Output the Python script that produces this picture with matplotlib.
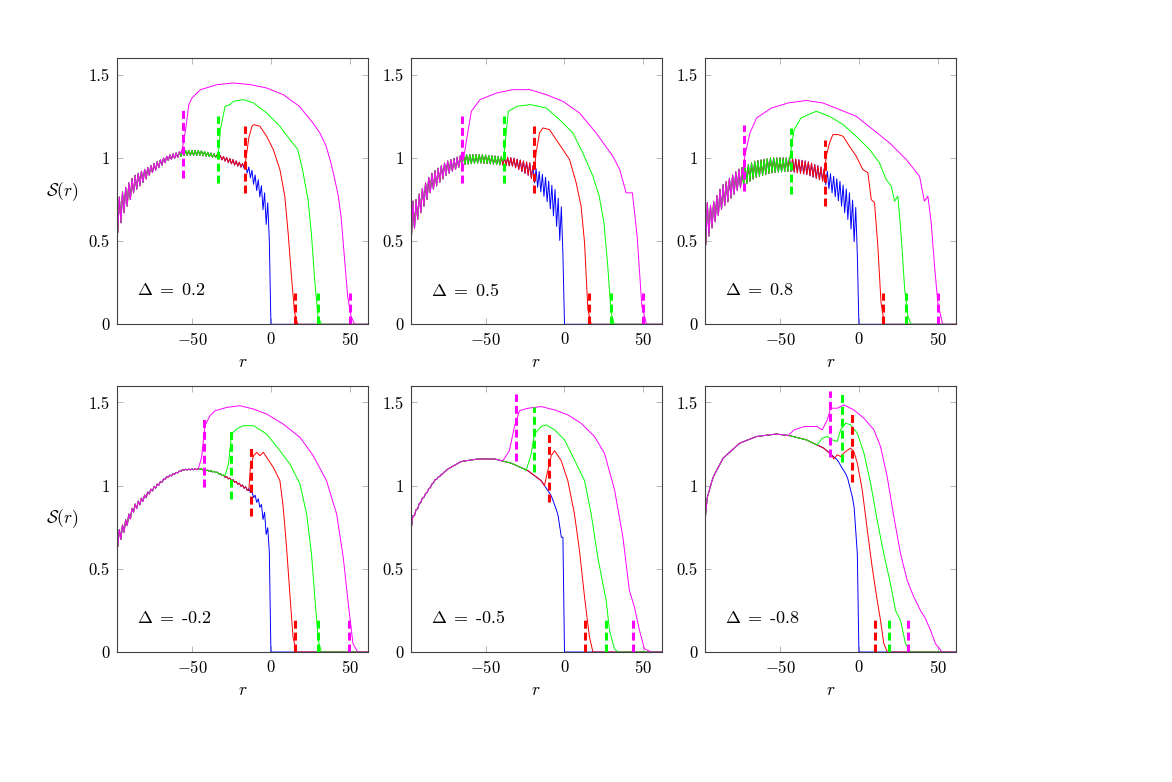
import numpy as np
import matplotlib
matplotlib.use("Agg")
import matplotlib.pyplot as plt

################################ Police façon LaTeX ################################
plt.rcParams['font.family'] = 'serif'
plt.rcParams['font.serif'] = ['cmr10']
plt.rcParams['mathtext.fontset'] = 'cm'
plt.rcParams['axes.formatter.use_mathtext'] = True

################################ Données ########################
DELTAS = ["0.2", "0.5", "0.8", "-0.2", "-0.5", "-0.8"]

# Delta = 0.2 : courbe de base (moyenne + demi-amplitude de l'oscillation pair/impair)
r_base_1 = [-98, -97, -93, -87, -76, -65, -55, -45, -34, -24, -17, -13, -7, -4, -1]
s_base_1 = [0.62, 0.65, 0.74, 0.84, 0.93, 1.0, 1.03, 1.03, 1.01, 0.975, 0.95, 0.91, 0.81, 0.72, 0.6]
a_base_1 = [0.1, 0.1, 0.07, 0.05, 0.025, 0.015, 0.015, 0.015, 0.01, 0.015, 0.012, 0.03, 0.045, 0.07, 0.1]
r_rouge_1 = [-17, -16, -14, -12, -10.7, -7, -2.7, 1.5, 5.7, 8.8, 10.9, 13, 15, 17]
s_rouge_1 = [0.95, 0.98, 1.12, 1.19, 1.20, 1.19, 1.13, 1.05, 0.93, 0.77, 0.55, 0.29, 0.07, 0]
r_vert_1 = [-34, -33, -32, -29, -26, -23.7, -17.4, -11, -2.7, 5.7, 12, 17, 20, 23.5, 25.6, 27.7, 29.8, 32]
s_vert_1 = [1.01, 1.05, 1.17, 1.31, 1.32, 1.34, 1.35, 1.33, 1.27, 1.19, 1.11, 1.05, 0.93, 0.75, 0.55, 0.27, 0.05, 0]
r_mag_1 = [-57, -56, -54, -52, -50, -44.6, -34, -23.7, -13, -2.7, 7.8, 18, 26.6, 31, 35, 38, 40, 42.5, 44.4, 46.5, 48.6, 50.7, 53]
s_mag_1 = [1.03, 1.06, 1.17, 1.32, 1.36, 1.41, 1.44, 1.45, 1.44, 1.42, 1.38, 1.31, 1.21, 1.15, 1.07, 0.97, 0.89, 0.78, 0.65, 0.41, 0.17, 0.05, 0]
saut_1 = [-16.5, -33.5, -55.7]
saut_bas_1 = [0.79, 0.85, 0.88]
saut_haut_1 = [1.19, 1.25, 1.29]
fin_1 = [15.2, 29.7, 50.0]

# Delta = 0.5
r_base_2 = [-98, -94, -85, -74.5, -64, -53.5, -43, -32.7, -22, -11.6, -6, -1]
s_base_2 = [0.6, 0.68, 0.845, 0.94, 0.99, 0.995, 0.985, 0.975, 0.93, 0.815, 0.72, 0.55]
a_base_2 = [0.13, 0.07, 0.055, 0.04, 0.03, 0.025, 0.025, 0.025, 0.04, 0.065, 0.09, 0.13]
r_rouge_2 = [-19, -18, -15.8, -13.7, -9.5, -5.3, -1, 3.2, 7.4, 10.5, 12.7, 14.8, 16.9]
s_rouge_2 = [0.93, 1.03, 1.15, 1.18, 1.17, 1.11, 1.05, 0.99, 0.85, 0.71, 0.49, 0.09, 0]
r_vert_2 = [-39, -38, -36.7, -35.6, -30, -21.6, -11.6, -3.2, 5.3, 11.6, 18, 22, 25, 27.4, 29.5, 31.6]
s_vert_2 = [0.98, 1.05, 1.17, 1.28, 1.31, 1.32, 1.30, 1.23, 1.15, 1.03, 0.89, 0.77, 0.61, 0.35, 0.07, 0]
r_mag_2 = [-64, -62, -59, -53.5, -43, -32.7, -22, -11.6, -1, 9.5, 20, 30.6, 35, 39, 43, 46, 49, 52]
s_mag_2 = [0.99, 1.11, 1.28, 1.35, 1.39, 1.41, 1.41, 1.38, 1.34, 1.27, 1.15, 1.01, 0.93, 0.79, 0.79, 0.53, 0.11, 0]
saut_2 = [-19.0, -38.6, -64.6]
saut_bas_2 = [0.79, 0.85, 0.85]
saut_haut_2 = [1.19, 1.25, 1.25]
fin_2 = [15.8, 29.7, 50.0]

# Delta = 0.8
r_base_3 = [-98, -93.5, -87, -76.5, -66, -55.5, -44, -33, -22.8, -12, -6, -1]
s_base_3 = [0.6, 0.64, 0.76, 0.87, 0.93, 0.955, 0.96, 0.94, 0.90, 0.795, 0.70, 0.55]
a_base_3 = [0.15, 0.07, 0.07, 0.06, 0.05, 0.045, 0.04, 0.04, 0.04, 0.065, 0.09, 0.13]
r_rouge_3 = [-21.8, -20.7, -18.6, -16.5, -13.3, -10, -6, -1.7, 2.5, 5.7, 7.8, 9.9, 12, 14, 16.2]
s_rouge_3 = [0.9, 1.01, 1.09, 1.14, 1.14, 1.13, 1.07, 1.01, 0.93, 0.91, 0.75, 0.73, 0.47, 0.13, 0]
r_vert_3 = [-44, -43, -41, -36.7, -27, -18.6, -10, -1.7, 6.8, 13, 17.3, 20.5, 22.6, 24.7, 26.8, 29, 31, 33]
s_vert_3 = [0.98, 1.05, 1.17, 1.24, 1.28, 1.25, 1.2, 1.13, 1.05, 0.97, 0.87, 0.83, 0.74, 0.77, 0.53, 0.21, 0.05, 0]
r_mag_3 = [-73.4, -72.3, -69, -64.8, -55.3, -44.7, -33.3, -22.8, -12.2, -1.7, 8.9, 19.4, 30, 38.4, 41.5, 43.7, 45.8, 47.9, 50, 53]
s_mag_3 = [0.9, 1.01, 1.15, 1.24, 1.30, 1.33, 1.345, 1.33, 1.29, 1.25, 1.17, 1.09, 0.99, 0.89, 0.74, 0.77, 0.61, 0.35, 0.13, 0]
saut_3 = [-21.7, -43.2, -73.0]
saut_bas_3 = [0.71, 0.78, 0.80]
saut_haut_3 = [1.11, 1.18, 1.20]
fin_3 = [15.0, 30.1, 49.8]

# Delta = -0.2
r_base_4 = [-98, -93.5, -87, -76.5, -66, -55.5, -45, -34.4, -23.8, -13.3, -7, -4, -1]
s_base_4 = [0.66, 0.74, 0.86, 0.965, 1.05, 1.095, 1.10, 1.08, 1.03, 0.97, 0.89, 0.8, 0.65]
a_base_4 = [0.05, 0.03, 0.02, 0.01, 0.005, 0.003, 0.003, 0.003, 0.005, 0.008, 0.02, 0.04, 0.05]
r_rouge_4 = [-14, -13, -11, -9, -7, -4.8, -2.7, 1.5, 5.7, 7.8, 9.9, 12, 14, 16.2]
s_rouge_4 = [0.97, 1.11, 1.18, 1.2, 1.18, 1.2, 1.17, 1.11, 1.03, 0.87, 0.63, 0.35, 0.09, 0]
r_vert_4 = [-29, -26.9, -24.9, -21.7, -17.5, -11, -2.7, 5.7, 12, 18.4, 22.6, 25.7, 27.8, 30, 32]
s_vert_4 = [1.06, 1.13, 1.31, 1.34, 1.36, 1.36, 1.31, 1.21, 1.13, 1.01, 0.83, 0.59, 0.33, 0.07, 0]
r_mag_4 = [-46, -43.9, -41.8, -38.6, -35.4, -28, -19.6, -11, -2.7, 7.8, 18.4, 26.8, 35.2, 41.6, 45.8, 49, 52, 55]
s_mag_4 = [1.1, 1.17, 1.36, 1.42, 1.45, 1.47, 1.48, 1.46, 1.43, 1.37, 1.29, 1.18, 1.03, 0.83, 0.57, 0.29, 0.05, 0]
saut_4 = [-12.7, -25.3, -42.4]
saut_bas_4 = [0.82, 0.92, 0.99]
saut_haut_4 = [1.23, 1.33, 1.40]
fin_4 = [15.2, 29.7, 49.4]

# Delta = -0.5
r_base_5 = [-98, -96, -90.7, -82.3, -73.8, -65.4, -54.9, -44.3, -33.8, -23.2, -14.8, -8.4, -4.2, -2, -1]
s_base_5 = [0.7, 0.81, 0.91, 1.03, 1.10, 1.145, 1.16, 1.16, 1.135, 1.09, 1.03, 0.94, 0.83, 0.69, 0.69]
a_base_5 = [0.01, 0.01, 0.005, 0.003, 0, 0, 0, 0, 0, 0, 0, 0, 0, 0, 0]
r_rouge_5 = [-12.7, -10.1, -8.4, -6.3, -2.1, 2.1, 6.3, 9.5, 12.7, 15.8, 18]
s_rouge_5 = [1.0, 1.11, 1.18, 1.21, 1.15, 1.03, 0.83, 0.61, 0.33, 0.09, 0]
r_vert_5 = [-24.3, -21.1, -19, -14.8, -11.6, -6.3, 0, 6.3, 12.7, 16.9, 21.1, 24.3, 26.4, 28.5, 31.6, 33.8]
s_vert_5 = [1.09, 1.19, 1.31, 1.355, 1.365, 1.335, 1.275, 1.155, 1.03, 0.83, 0.57, 0.41, 0.31, 0.13, 0.02, 0]
r_mag_5 = [-39, -34.9, -31.7, -28.5, -23.2, -14.8, -6.3, 2.1, 10.5, 19, 25.3, 31.7, 37, 41.1, 44.3, 47.5, 50.6, 55]
s_mag_5 = [1.15, 1.21, 1.355, 1.45, 1.465, 1.475, 1.455, 1.425, 1.375, 1.295, 1.195, 0.975, 0.69, 0.37, 0.27, 0.13, 0.02, 0]
saut_5 = [-9.5, -19.0, -31.0]
saut_bas_5 = [0.90, 1.08, 1.15]
saut_haut_5 = [1.31, 1.47, 1.55]
fin_5 = [13.3, 26.6, 43.7]

# Delta = -0.8
r_base_6 = [-98, -96.6, -92.4, -86, -75.5, -64.9, -52.3, -43.8, -33.3, -22.2, -13.7, -7.4, -3.2, -1]
s_base_6 = [0.66, 0.91, 1.05, 1.165, 1.255, 1.295, 1.31, 1.30, 1.275, 1.225, 1.155, 1.055, 0.895, 0.59]
a_base_6 = [0, 0, 0, 0, 0, 0, 0, 0, 0, 0, 0, 0, 0, 0]
r_rouge_6 = [-16, -13.7, -11.6, -8.4, -5.3, -3.2, -1, 2.1, 5.3, 8.4, 11.6, 13.7, 15.8, 18]
s_rouge_6 = [1.16, 1.185, 1.175, 1.205, 1.225, 1.205, 1.135, 0.975, 0.735, 0.51, 0.31, 0.19, 0.05, 0]
r_vert_6 = [-26.4, -23.2, -20, -16.9, -13.7, -11.6, -8.4, -5.3, -1, 3.2, 7.4, 11.6, 15.8, 20, 23.2, 26.4, 29.5, 32.7]
s_vert_6 = [1.245, 1.285, 1.295, 1.275, 1.265, 1.335, 1.375, 1.365, 1.315, 1.195, 1.015, 0.79, 0.59, 0.41, 0.25, 0.19, 0.05, 0]
r_mag_6 = [-45, -41, -34.7, -26.4, -23.2, -20, -17.9, -13.7, -9.5, -3.2, 3.2, 9.5, 13.7, 17.9, 22.1, 26.4, 30.6, 34.8, 39, 42.2, 45.4, 48.5, 52.7]
s_mag_6 = [1.30, 1.335, 1.355, 1.355, 1.335, 1.395, 1.465, 1.465, 1.485, 1.455, 1.405, 1.335, 1.235, 1.055, 0.815, 0.59, 0.43, 0.33, 0.25, 0.2, 0.13, 0.05, 0]
saut_6 = [-4.6, -10.4, -18.6]
saut_bas_6 = [1.02, 1.14, 1.17]
saut_haut_6 = [1.43, 1.55, 1.57]
fin_6 = [9.9, 18.8, 30.8]

PANNEAUX = [
    (r_base_1, s_base_1, a_base_1, [(r_rouge_1, s_rouge_1), (r_vert_1, s_vert_1), (r_mag_1, s_mag_1)], saut_1, saut_bas_1, saut_haut_1, fin_1),
    (r_base_2, s_base_2, a_base_2, [(r_rouge_2, s_rouge_2), (r_vert_2, s_vert_2), (r_mag_2, s_mag_2)], saut_2, saut_bas_2, saut_haut_2, fin_2),
    (r_base_3, s_base_3, a_base_3, [(r_rouge_3, s_rouge_3), (r_vert_3, s_vert_3), (r_mag_3, s_mag_3)], saut_3, saut_bas_3, saut_haut_3, fin_3),
    (r_base_4, s_base_4, a_base_4, [(r_rouge_4, s_rouge_4), (r_vert_4, s_vert_4), (r_mag_4, s_mag_4)], saut_4, saut_bas_4, saut_haut_4, fin_4),
    (r_base_5, s_base_5, a_base_5, [(r_rouge_5, s_rouge_5), (r_vert_5, s_vert_5), (r_mag_5, s_mag_5)], saut_5, saut_bas_5, saut_haut_5, fin_5),
    (r_base_6, s_base_6, a_base_6, [(r_rouge_6, s_rouge_6), (r_vert_6, s_vert_6), (r_mag_6, s_mag_6)], saut_6, saut_bas_6, saut_haut_6, fin_6),
]

COULEURS = ['#ff0000', '#00ff00', '#ff00ff']  # rouge, vert, magenta
BLEU = '#0000ff'
R_MAX = 62

################################ Courbe de base sur le réseau (sites entiers) ######
def courbe_base(r_pts, s_pts, a_pts):
    r = np.arange(-98, 0)
    moy = np.interp(r, r_pts, s_pts)
    amp = np.interp(r, r_pts, a_pts)
    s = moy + amp * np.where(r % 2 == 0, 1.0, -1.0)  # oscillation pair/impair
    return r, s

################################ Figure #############################################
fig = plt.figure(figsize=(11.72, 7.82), dpi=100)
gauches = [0.0998, 0.3503, 0.6015]
bas = [0.5853, 0.1662]
largeur, hauteur = 0.2142, 0.3405

for k, (rb, sb, ab, branches, sauts, s_bas, s_haut, fins) in enumerate(PANNEAUX):
    ligne, col = divmod(k, 3)
    ax = fig.add_axes([gauches[col], bas[ligne], largeur, hauteur])

    r, s = courbe_base(rb, sb, ab)
    # courbe bleue (sans saut)
    ax.plot(np.concatenate([r, [0, R_MAX]]), np.concatenate([s, [0, 0]]), color=BLEU, lw=0.7)
    # courbes rouge, verte, magenta : suivent la base puis sautent
    for (ru, su), c in zip(branches, COULEURS):
        garde = r < ru[0]
        x = np.concatenate([r[garde], ru, [R_MAX]])
        y = np.concatenate([s[garde], su, [0]])
        ax.plot(x, y, color=c, lw=0.7)
    # segments en pointillés (position du saut et du front)
    for xs, yb, yh, xf, c in zip(sauts, s_bas, s_haut, fins, COULEURS):
        ax.plot([xs, xs], [yb, yh], color=c, lw=2.2, dashes=(2.6, 1.3))
        ax.plot([xf, xf], [0, 0.19], color=c, lw=2.2, dashes=(2.6, 1.3))

    ax.set_xlim(-97.5, 61.5)
    ax.set_ylim(0, 1.6)
    ax.set_xticks([-50, 0, 50])
    ax.set_xticklabels([r'$-50$', r'$0$', r'$50$'])
    ax.set_yticks([0, 0.5, 1, 1.5])
    ax.set_yticklabels(['0', '0.5', '1', '1.5'])
    ax.tick_params(direction='in', top=True, right=True, length=4.5, width=0.5,
                   color='0.6', labelsize=12, pad=5)
    for sp in ax.spines.values():
        sp.set_color('0.25')
        sp.set_linewidth(0.8)

    ax.set_xlabel(r'$r$', fontsize=12.5)
    ax.xaxis.set_label_coords(0.5, -0.115)
    if col == 0:
        ax.set_ylabel(r'$\mathcal{S}(r)$', fontsize=12.5, rotation=0, va='center', ha='center')
        ax.yaxis.set_label_coords(-0.22, 0.5)

    ax.text(0.08, 0.128, r'$\Delta\;=\;$' + DELTAS[k], transform=ax.transAxes,
            fontsize=13, ha='left', va='center')

fig.savefig('out.png', dpi=100)
